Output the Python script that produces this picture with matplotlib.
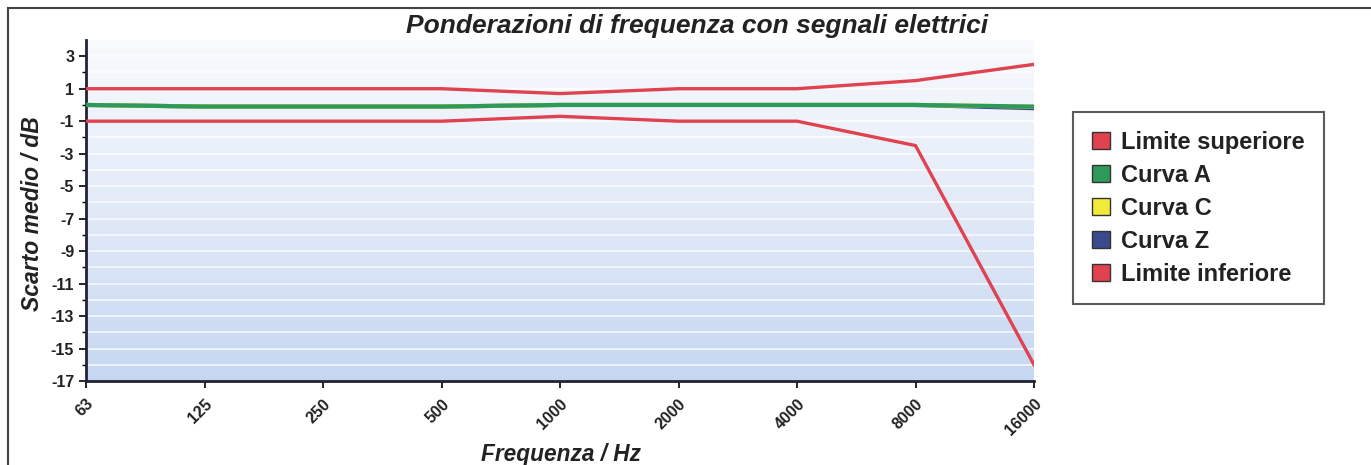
import numpy as np
import matplotlib
matplotlib.use("Agg")
import matplotlib.pyplot as plt
from matplotlib.lines import Line2D
from matplotlib.patches import Patch

plt.rcParams['font.family'] = ['Liberation Sans', 'DejaVu Sans']

# ── data ────────────────────────────────────────────────────────────────
freqs = ["63", "125", "250", "500", "1000", "2000", "4000", "8000", "16000"]
lim_sup = [1.0, 1.0, 1.0, 1.0, 0.7, 1.0, 1.0, 1.5, 2.5]
lim_inf = [-1.0, -1.0, -1.0, -1.0, -0.7, -1.0, -1.0, -2.5, -16.0]
curva_a = [0.0, -0.1, -0.1, -0.1, 0.0, 0.0, 0.0, 0.0, -0.1]
curva_c = [0.0, -0.1, -0.1, -0.1, 0.0, 0.0, 0.0, 0.0, -0.1]
curva_z = [0.0, -0.1, -0.1, -0.1, 0.0, 0.0, 0.0, 0.0, -0.2]
yticks = [3, 1, -1, -3, -5, -7, -9, -11, -13, -15, -17]

red = "#e0434f"
green = "#2e9a5a"
yellow = "#f2ea3a"
blue = "#3b4a8c"

fig = plt.figure(figsize=(13.71, 4.65), dpi=100)
ax = fig.add_axes([86 / 1371, 1 - 381 / 465, (1034 - 86) / 1371, (381 - 40) / 465])

x = np.arange(len(freqs))
ymin, ymax = -17, 4

# background gradient, white near top to light blue near bottom
grad = np.linspace(0, 1, 256).reshape(-1, 1)
cmap = matplotlib.colors.LinearSegmentedColormap.from_list(
    "bg", ["#c6d7f2", "#e2eaf8", "#f8fafd"])
ax.imshow(grad, extent=[0, len(freqs) - 1, ymin, ymax], origin="lower",
          aspect="auto", cmap=cmap, zorder=0)
for yy in range(ymin + 1, ymax):
    ax.axhline(yy, color="white", lw=1.2, alpha=0.8, zorder=1)

ax.plot(x, lim_sup, color=red, lw=2.4, zorder=4)
ax.plot(x, curva_z, color=blue, lw=3.0, zorder=3)
ax.plot(x, curva_c, color=yellow, lw=3.0, zorder=3)
ax.plot(x, curva_a, color=green, lw=3.0, zorder=3)
ax.plot(x, lim_inf, color=red, lw=2.4, zorder=4)

ax.set_xlim(0, len(freqs) - 1)
ax.set_ylim(ymin, ymax)
ax.set_xticks(x)
ax.set_xticklabels(freqs, rotation=45, ha="right", rotation_mode="anchor",
                   fontsize=11.5, fontweight="bold", color="#222222")
ax.set_yticks(yticks)
ax.set_yticklabels([str(v) for v in yticks], fontsize=11.5, fontweight="bold",
                   color="#222222")
ax.set_yticks(np.arange(-16, 4, 2), minor=True)
ax.tick_params(axis="y", which="major", length=5, width=1.2, direction="out")
ax.tick_params(axis="y", which="minor", length=3, width=1.0, direction="out")
ax.tick_params(axis="x", length=5, width=1.2, direction="out")
for lab in ax.get_xticklabels():
    lab.set_y(-0.01)

for s in ["top", "right"]:
    ax.spines[s].set_visible(False)
for s in ["left", "bottom"]:
    ax.spines[s].set_linewidth(2.0)
    ax.spines[s].set_color("#222233")

ax.set_ylabel("Scarto medio / dB", fontsize=16.5, fontweight="bold",
              fontstyle="italic", color="#222222")
ax.yaxis.set_label_coords(-42 / 948, (381 - 214) / 341)
fig.text(561 / 1371, 1 - 454 / 465, "Frequenza / Hz", fontsize=16.3,
         fontweight="bold", fontstyle="italic", color="#222222",
         ha="center", va="center")
fig.text(697 / 1371, 1 - 26 / 465, "Ponderazioni di frequenza con segnali elettrici",
         fontsize=19, fontweight="bold", fontstyle="italic", color="#222222",
         ha="center", va="center")

# outer frame (top and left only visible)
fig.add_artist(Line2D([8 / 1371, 1], [1 - 8 / 465, 1 - 8 / 465],
                      transform=fig.transFigure, color="#444444", lw=1.5))
fig.add_artist(Line2D([8 / 1371, 8 / 1371], [0, 1 - 8 / 465],
                      transform=fig.transFigure, color="#444444", lw=1.5))

handles = [Patch(facecolor=red, edgecolor="#333333", label="Limite superiore"),
           Patch(facecolor=green, edgecolor="#333333", label="Curva A"),
           Patch(facecolor=yellow, edgecolor="#333333", label="Curva C"),
           Patch(facecolor=blue, edgecolor="#333333", label="Curva Z"),
           Patch(facecolor=red, edgecolor="#333333", label="Limite inferiore")]
leg = fig.legend(handles=handles, loc="upper left",
                 bbox_to_anchor=(1073 / 1371, 1 - 112 / 465),
                 prop={"size": 17, "weight": "bold"}, frameon=True,
                 fancybox=False, edgecolor="#333333", handlelength=0.75,
                 handleheight=0.75, handletextpad=0.5, labelspacing=0.42,
                 borderpad=0.8, borderaxespad=0)
leg.get_frame().set_linewidth(1.5)
for t in leg.get_texts():
    t.set_color("#222222")

fig.savefig("out.png", dpi=100)
